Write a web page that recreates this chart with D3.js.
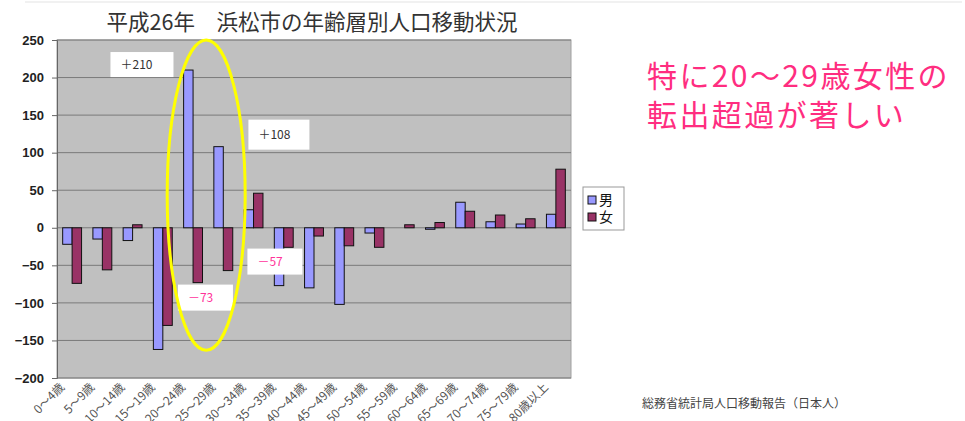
<!DOCTYPE html>
<html>
<head>
<meta charset="utf-8">
<script src="https://cdn.jsdelivr.net/npm/d3@7"></script>
<style>
  body { margin: 0; background: #fff; }
  svg { display: block; }
  text { font-family: "Noto Sans CJK JP", "Noto Sans", sans-serif; }
</style>
</head>
<body>
<svg id="chart" width="965" height="421"></svg>
<script>
// age groups and net migration (転入-転出), Hamamatsu 2014
var ageGroups = ["0～4歳","5～9歳","10～14歳","15～19歳","20～24歳","25～29歳","30～34歳","35～39歳",
  "40～44歳","45～49歳","50～54歳","55～59歳","60～64歳","65～69歳","70～74歳","75～79歳","80歳以上"];
var maleValues   = [-22, -15, -17, -162, 210, 108, 24, -77, -80, -102, -7, 0, -2, 34, 8, 5, 18];
var femaleValues = [-74, -56, 4, -130, -73, -57, 46, -26, -11, -24, -26, 4, 7, 22, 17, 12, 78];
var seriesNames  = ["男", "女"];
var yTicks = [250, 200, 150, 100, 50, 0, -50, -100, -150, -200];

var colors = { "男": "#9999ff", "女": "#993366" };

var svg = d3.select("#chart");
var plotL = 57, plotR = 571, plotT = 40, plotB = 378;

var x = d3.scaleBand().domain(ageGroups).range([plotL, plotR]).padding(0);
var xs = d3.scaleBand().domain(seriesNames).range([0, x.bandwidth()])
  .paddingInner(0).paddingOuter(0.6);
var y = d3.scaleLinear().domain([-200, 250]).range([plotB, plotT]);

// faint rule at top of slide
svg.append("line").attr("x1", 25).attr("x2", 962).attr("y1", 2).attr("y2", 2)
  .style("stroke", "#e3e3e3").style("stroke-width", 1);

// title
svg.append("text")
  .attr("x", 312).attr("y", 30)
  .attr("text-anchor", "middle")
  .attr("font-size", "21.5px")
  .style("fill", "#333")
  .text("平成26年　浜松市の年齢層別人口移動状況");

// plot area
svg.append("rect")
  .attr("x", plotL).attr("y", plotT).attr("width", plotR - plotL).attr("height", plotB - plotT)
  .style("fill", "#c0c0c0").style("stroke", "#a0a0a0");

svg.selectAll(".grid").data(yTicks).enter()
  .append("line")
  .attr("class", "grid")
  .attr("x1", plotL).attr("x2", plotR)
  .attr("y1", function(d) { return y(d); })
  .attr("y2", function(d) { return y(d); })
  .style("stroke", "#7a7a7a").style("stroke-width", 1);

// y axis
var yAxis = d3.axisLeft(y).tickValues(yTicks).tickSize(5).tickPadding(8)
  .tickFormat(function(d) { return d < 0 ? "−" + Math.abs(d) : d; });
var gy = svg.append("g").attr("transform", "translate(" + plotL + ",0)").call(yAxis);
gy.select(".domain").style("stroke", "#666");
gy.selectAll(".tick line").style("stroke", "#666");
gy.selectAll(".tick text")
  .style("font-family", "'Liberation Sans', Arial, sans-serif")
  .style("font-size", "13px").style("font-weight", "bold").style("fill", "#222");

// bars
var rows = ageGroups.map(function(g, i) {
  return { group: g, values: [ { s: "男", v: maleValues[i] }, { s: "女", v: femaleValues[i] } ] };
});
var groups = svg.selectAll(".grp").data(rows).enter()
  .append("g").attr("class", "grp")
  .attr("transform", function(d) { return "translate(" + x(d.group) + ",0)"; });
groups.selectAll("rect").data(function(d) { return d.values; }).enter()
  .append("rect")
  .attr("x", function(d) { return xs(d.s); })
  .attr("width", xs.bandwidth())
  .attr("y", function(d) { return y(Math.max(0, d.v)); })
  .attr("height", function(d) { return Math.abs(y(d.v) - y(0)); })
  .style("fill", function(d) { return colors[d.s]; })
  .style("stroke", "#111").style("stroke-width", 1);

// x labels
svg.selectAll(".xlab").data(ageGroups).enter()
  .append("text")
  .attr("class", "xlab")
  .attr("transform", function(d) {
    return "translate(" + (x(d) + x.bandwidth() / 2 - 7) + "," + (plotB + 10) + ") rotate(-45)";
  })
  .attr("text-anchor", "end")
  .attr("font-size", "12px")
  .style("fill", "#555")
  .text(function(d) { return d; });

// legend
var lg = svg.append("g").attr("transform", "translate(583,187)");
lg.append("rect").attr("width", 41).attr("height", 43)
  .style("fill", "#fff").style("stroke", "#999");
seriesNames.forEach(function(s, i) {
  lg.append("rect").attr("x", 5).attr("y", 9 + i * 17).attr("width", 8).attr("height", 8)
    .style("fill", colors[s]).style("stroke", "#111");
  lg.append("text").attr("x", 16).attr("y", 18 + i * 17)
    .attr("font-size", "14px").style("fill", "#111").text(s);
});

// callouts
var callouts = [
  { text: "＋210", group: "10～14歳", dx: -7, v: 210, dy: -18, w: 63, h: 25, color: "#333" },
  { text: "＋108", group: "30～34歳", dx: 10, v: 108, dy: -27, w: 61, h: 30, color: "#333" },
  { text: "－73",  group: "20～24歳", dx: 0, v: -73, dy: 2,  w: 55, h: 26, color: "#ff3399" },
  { text: "－57",  group: "30～34歳", dx: 9, v: -57, dy: -22, w: 55, h: 26, color: "#ff3399" }
];
callouts.forEach(function(c) {
  var bx = x(c.group) + c.dx, by = y(c.v) + c.dy;
  svg.append("rect").attr("x", bx).attr("y", by).attr("width", c.w).attr("height", c.h)
    .style("fill", "#fff");
  svg.append("text").attr("x", bx + 10).attr("y", by + c.h / 2 + 4)
    .attr("font-size", "12px").style("fill", c.color).text(c.text);
});

// yellow ellipse round 20-29
var ex = x("25～29歳") - 2;
svg.append("ellipse")
  .attr("cx", ex).attr("cy", (y(250) + y(-163)) / 2)
  .attr("rx", 39).attr("ry", (y(-163) - y(250)) / 2)
  .style("fill", "none").style("stroke", "#ffff00").style("stroke-width", 3);

// message
var msg = ["特に20〜29歳女性の", "転出超過が著しい"];
svg.selectAll(".msg").data(msg).enter()
  .append("text").attr("class", "msg")
  .attr("x", 647).attr("y", function(d, i) { return 87 + i * 39; })
  .attr("font-size", "30px")
  .style("letter-spacing", "2.4px")
  .style("fill", "#ff2d80")
  .text(function(d) { return d; });

// source
svg.append("text").attr("x", 642).attr("y", 408)
  .attr("font-size", "12px").style("fill", "#444")
  .text("総務省統計局人口移動報告（日本人）");
</script>
</body>
</html>
